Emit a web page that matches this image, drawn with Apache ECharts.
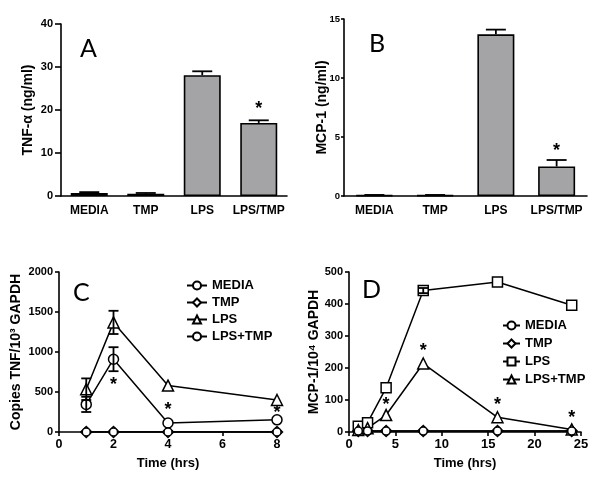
<!DOCTYPE html>
<html>
<head>
<meta charset="utf-8">
<script src="https://cdn.jsdelivr.net/npm/echarts@6/dist/echarts.min.js"></script>
<style>
html,body{margin:0;padding:0;background:#fff;}
#chart{width:600px;height:480px;}
</style>
</head>
<body>
<div id="chart"></div>
<script>
// ---------- DATA ----------
const barCategories = ['MEDIA', 'TMP', 'LPS', 'LPS/TMP'];
// Panel A: TNF-alpha (ng/ml)
const tnfValues = [0.7, 0.5, 28.1, 17.0];
const tnfErrors = [0.2, 0.2, 0.9, 0.6];
const tnfStars = [[3, 20.3]];
const aYTicks = [0, 10, 20, 30, 40];
// Panel B: MCP-1 (ng/ml)
const mcpValues = [0.06, 0.06, 13.7, 2.5];
const mcpErrors = [0.03, 0.03, 0.4, 0.55];
const mcpStars = [[3, 3.8]];
const bYTicks = [0, 5, 10, 15];
// Panel C: Copies TNF / 10^3 GAPDH
const cTimes = [1, 2, 4, 8];
const cMedia = [0, 0, 0, 0];
const cTmp = [0, 0, 0, 0];
const cLps = [535, 1370, 580, 400];
const cLpsErr = [135, 145, 0, 0];
const cLpsTmp = [345, 910, 112, 152];
const cLpsTmpErr = [95, 150, 0, 0];
const cStars = [[2, 590], [4, 280], [8, 240]];
const cXTicks = [0, 2, 4, 6, 8];
const cYTicks = [0, 500, 1000, 1500, 2000];
// Panel D: MCP-1 / 10^4 GAPDH
const dTimes = [1, 2, 4, 8, 16, 24];
const dMedia = [3, 3, 3, 3, 3, 3];
const dTmp = [3, 3, 3, 3, 3, 3];
const dLps = [18, 29, 138, 442, 469, 396];
const dLpsErr = [0, 0, 0, 8, 0, 0];
const dLpsTmp = [6, 12, 53, 214, 46, 8];
const dStars = [[4, 84], [8, 254], [16, 84], [24, 43]];
const dXTicks = [0, 5, 10, 15, 20, 25];
const dYTicks = [0, 100, 200, 300, 400, 500];

// ---------- STYLE ----------
const FONT = '"Liberation Sans", Arial, sans-serif';
const BLACK = '#000';
const axisLine = {show: true, lineStyle: {color: BLACK, width: 1.6}};
const tickLabel = {color: BLACK, fontFamily: FONT, fontWeight: 'bold', fontSize: 12};
const nameStyle = {color: BLACK, fontFamily: FONT, fontWeight: 'bold', fontSize: 14};

function pairs(xs, ys) { return xs.map((x, i) => [x, ys[i]]); }

function errorBars(xi, yi, xs, vals, errs, cap, upOnly) {
  const data = [];
  xs.forEach((x, i) => { if (errs[i] > 0) data.push([x, upOnly ? vals[i] : vals[i] - errs[i], vals[i] + errs[i]]); });
  return {
    type: 'custom', xAxisIndex: xi, yAxisIndex: yi, z: 5, silent: true,
    data: data,
    renderItem: function (params, api) {
      const x = api.value(0);
      const lo = api.coord([x, api.value(1)]);
      const hi = api.coord([x, api.value(2)]);
      const st = {stroke: BLACK, lineWidth: 1.8};
      const children = [
        {type: 'line', shape: {x1: lo[0], y1: lo[1], x2: hi[0], y2: hi[1]}, style: st},
        {type: 'line', shape: {x1: hi[0] - cap / 2, y1: hi[1], x2: hi[0] + cap / 2, y2: hi[1]}, style: st}
      ];
      if (!upOnly) children.push({type: 'line', shape: {x1: lo[0] - cap / 2, y1: lo[1], x2: lo[0] + cap / 2, y2: lo[1]}, style: st});
      return {type: 'group', children: children};
    }
  };
}

function stars(xi, yi, data) {
  return {
    type: 'custom', xAxisIndex: xi, yAxisIndex: yi, z: 6, silent: true,
    data: data,
    renderItem: function (params, api) {
      const p = api.coord([api.value(0), api.value(1)]);
      return {type: 'text', x: p[0], y: p[1], style: {text: '*', fill: BLACK, font: 'bold 18px ' + FONT, textAlign: 'center', textVerticalAlign: 'middle'}};
    }
  };
}

function lineSeries(name, xi, yi, xs, ys, symbol, size, z) {
  return {
    name: name, type: 'line', xAxisIndex: xi, yAxisIndex: yi, z: z || 3,
    data: pairs(xs, ys), symbol: symbol, symbolSize: size, showSymbol: true,
    itemStyle: {color: '#fff', borderColor: BLACK, borderWidth: 1.5},
    lineStyle: {color: BLACK, width: 1.5}
  };
}

function yAxis(grid, ticks, name, gap, tickLen, margin, fs) {
  return {
    type: 'value', gridIndex: grid, min: ticks[0], max: ticks[ticks.length - 1], interval: ticks[1] - ticks[0],
    axisLine: axisLine, splitLine: {show: false},
    axisTick: {show: true, length: tickLen, lineStyle: {color: BLACK, width: 1.6}},
    axisLabel: {color: BLACK, fontFamily: FONT, fontWeight: 'bold', fontSize: fs, margin: margin, formatter: v => String(v)},
    name: name, nameLocation: 'middle', nameGap: gap, nameTextStyle: nameStyle, nameMoveOverlap: false
  };
}

function xValueAxis(grid, ticks, fs) {
  return {
    type: 'value', gridIndex: grid, min: ticks[0], max: ticks[ticks.length - 1], interval: ticks[1] - ticks[0],
    axisLine: axisLine, splitLine: {show: false},
    axisTick: {show: true, length: 4, lineStyle: {color: BLACK, width: 1.6}},
    axisLabel: Object.assign({}, tickLabel, {margin: 6, fontSize: fs}),
    name: 'Time (hrs)', nameLocation: 'middle', nameGap: 25, nameMoveOverlap: false,
    nameTextStyle: Object.assign({}, nameStyle, {fontSize: 13})
  };
}

function catAxis(grid) {
  return {
    type: 'category', gridIndex: grid, data: barCategories, axisLine: axisLine,
    axisTick: {show: false}, axisLabel: Object.assign({}, tickLabel, {margin: 9, interval: 0})
  };
}

const legendText = {color: BLACK, fontFamily: FONT, fontWeight: 'bold', fontSize: 13};

const chart = echarts.init(document.getElementById('chart'), null, {renderer: 'canvas'});
const option = {
  animation: false,
  backgroundColor: '#fff',
  grid: [
    {left: 61, top: 24, width: 226, height: 172},
    {left: 344, top: 19, width: 243, height: 177},
    {left: 59, top: 272, width: 218, height: 160},
    {left: 349, top: 272, width: 232, height: 160}
  ],
  xAxis: [
    catAxis(0),
    catAxis(1),
    xValueAxis(2, cXTicks, 12.5),
    xValueAxis(3, dXTicks, 13)
  ],
  yAxis: [
    yAxis(0, aYTicks, 'TNF-\u03b1 (ng/ml)', 26, 6, 8, 11),
    yAxis(1, bYTicks, 'MCP-1 (ng/ml)', 15, 3, 4, 9.5),
    yAxis(2, cYTicks, 'Copies TNF/10\u00b3 GAPDH', 36, 4, 6, 11),
    yAxis(3, dYTicks, 'MCP-1/10\u2074 GAPDH', 28, 4, 6, 11)
  ],
  legend: [
    {left: 181, top: 274, orient: 'vertical', itemWidth: 20, itemHeight: 10, itemGap: 4, selectedMode: false,
      data: ['C MEDIA', 'C TMP', 'C LPS', 'C LPS+TMP'], formatter: n => n.slice(2), textStyle: legendText},
    {left: 497, top: 314, orient: 'vertical', itemWidth: 17, itemHeight: 10, itemGap: 5, selectedMode: false,
      data: ['D MEDIA', 'D TMP', 'D LPS', 'D LPS+TMP'], formatter: n => n.slice(2), textStyle: legendText}
  ],
  graphic: [
    {type: 'text', left: 80, top: 36, style: {text: 'A', font: '25px Lato, "Open Sans", sans-serif', fill: BLACK}},
    {type: 'text', left: 369, top: 31, style: {text: 'B', font: '25px Lato, "Open Sans", sans-serif', fill: BLACK}},
    {type: 'text', left: 73, top: 280, style: {text: 'C', font: '25px Lato, "Open Sans", sans-serif', fill: BLACK}},
    {type: 'text', left: 362, top: 277, style: {text: 'D', font: '25px Lato, "Open Sans", sans-serif', fill: BLACK}}
  ],
  series: [
    {type: 'bar', xAxisIndex: 0, yAxisIndex: 0, data: tnfValues, barWidth: 37, itemStyle: {color: '#a4a4a7', borderColor: BLACK, borderWidth: 1.6}},
    errorBars(0, 0, [0, 1, 2, 3], tnfValues, tnfErrors, 20, true),
    stars(0, 0, tnfStars),
    {type: 'bar', xAxisIndex: 1, yAxisIndex: 1, data: mcpValues, barWidth: 37, itemStyle: {color: '#a4a4a7', borderColor: BLACK, borderWidth: 1.6}},
    errorBars(1, 1, [0, 1, 2, 3], mcpValues, mcpErrors, 20, true),
    stars(1, 1, mcpStars),

    lineSeries('C TMP', 2, 2, cTimes, cTmp, 'diamond', 11, 3),
    lineSeries('C MEDIA', 2, 2, cTimes, cMedia, 'circle', 8, 4),
    lineSeries('C LPS', 2, 2, cTimes, cLps, 'triangle', 11, 3),
    lineSeries('C LPS+TMP', 2, 2, cTimes, cLpsTmp, 'circle', 10, 3),
    errorBars(2, 2, cTimes, cLps, cLpsErr, 10, false),
    errorBars(2, 2, cTimes, cLpsTmp, cLpsTmpErr, 10, false),
    stars(2, 2, cStars),

    lineSeries('D TMP', 3, 3, dTimes, dTmp, 'diamond', 11, 3),
    lineSeries('D MEDIA', 3, 3, dTimes, dMedia, 'circle', 8, 4),
    lineSeries('D LPS', 3, 3, dTimes, dLps, 'rect', 10, 3),
    lineSeries('D LPS+TMP', 3, 3, dTimes, dLpsTmp, 'triangle', 11, 3),
    errorBars(3, 3, dTimes, dLps, dLpsErr, 10, false),
    stars(3, 3, dStars)
  ]
};
chart.setOption(option);
</script>
</body>
</html>
